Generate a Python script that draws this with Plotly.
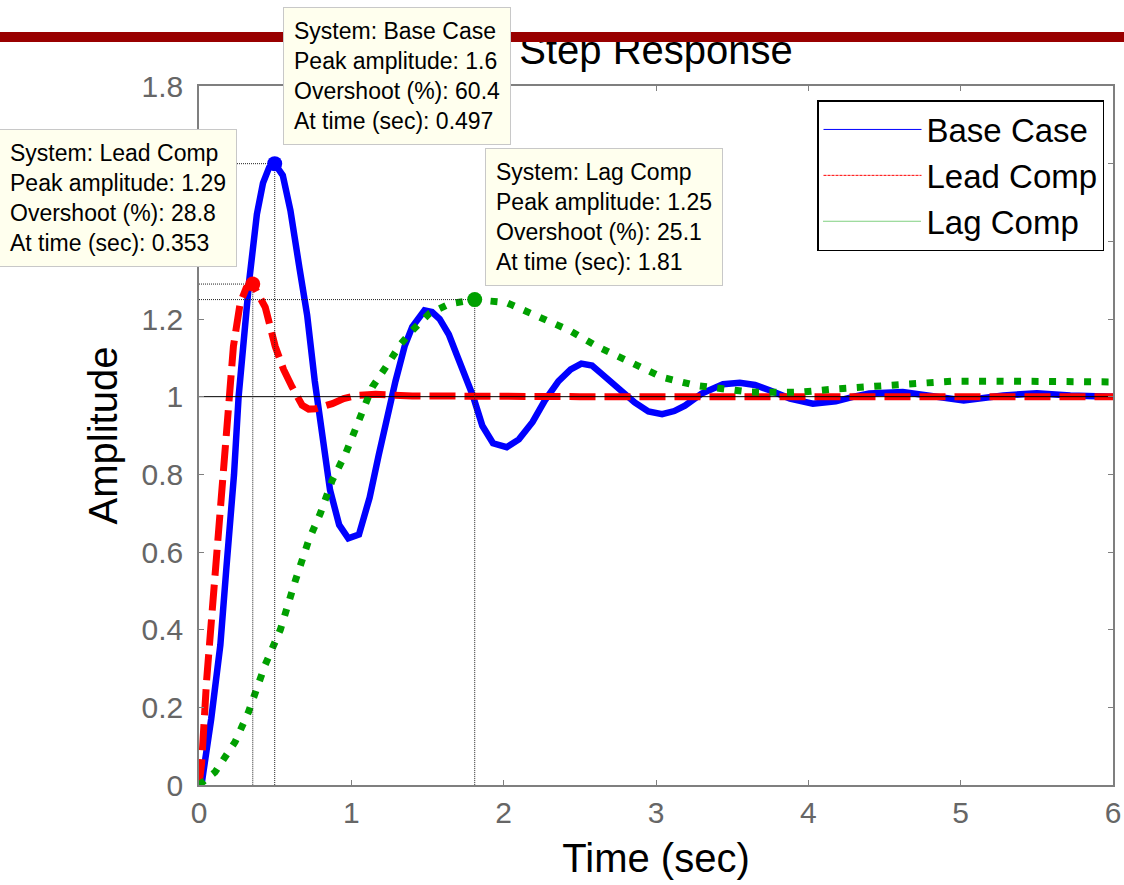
import plotly.graph_objects as go

# ---------------- data ----------------
t_base = [0, 0.02, 0.08, 0.14, 0.18, 0.23, 0.26, 0.30, 0.33, 0.38, 0.42, 0.46, 0.497,
          0.55, 0.60, 0.66, 0.71, 0.76, 0.81, 0.86, 0.92, 0.98, 1.05, 1.12, 1.18, 1.24,
          1.29, 1.35, 1.40, 1.48, 1.53, 1.58, 1.64, 1.69, 1.75, 1.80, 1.86, 1.93, 2.02,
          2.10, 2.19, 2.27, 2.36, 2.44, 2.51, 2.58, 2.64, 2.75, 2.86, 2.95, 3.04, 3.12,
          3.19, 3.30, 3.44, 3.55, 3.65, 3.75, 3.88, 4.03, 4.18, 4.30, 4.40, 4.62, 4.84,
          5.02, 5.28, 5.50, 5.72, 6.0]
y_base = [0, 0.01, 0.17, 0.36, 0.56, 0.80, 1.00, 1.20, 1.30, 1.47, 1.55, 1.59, 1.60,
          1.57, 1.48, 1.33, 1.21, 1.04, 0.89, 0.76, 0.67, 0.635, 0.645, 0.74, 0.85, 0.96,
          1.04, 1.13, 1.18, 1.222, 1.218, 1.20, 1.16, 1.11, 1.05, 1.00, 0.925, 0.88, 0.87,
          0.89, 0.935, 0.99, 1.04, 1.07, 1.085, 1.08, 1.06, 1.025, 0.985, 0.962, 0.955, 0.963,
          0.977, 1.008, 1.032, 1.036, 1.03, 1.016, 0.995, 0.982, 0.988, 1.0, 1.008, 1.012, 1.0,
          0.99, 1.003, 1.009, 1.003, 1.0]

t_lead = [0, 0.017, 0.05, 0.083, 0.127, 0.16, 0.193, 0.226, 0.27, 0.31, 0.353, 0.40,
          0.435, 0.50, 0.555, 0.611, 0.677, 0.72, 0.765, 0.875, 0.95, 1.03, 1.16, 1.4,
          1.8, 2.5, 3.5, 4.5, 6.0]
y_lead = [0, 0.055, 0.27, 0.44, 0.655, 0.83, 1.0, 1.13, 1.24, 1.28, 1.29, 1.26,
          1.23, 1.13, 1.07, 1.025, 0.978, 0.968, 0.969, 0.982, 0.995, 1.003, 1.006, 1.002,
          1.0, 1.0, 1.0, 1.0, 1.0]

t_lag = [0, 0.105, 0.237, 0.325, 0.435, 0.534, 0.633, 0.72, 0.797, 0.875, 0.962, 1.05,
         1.138, 1.226, 1.325, 1.402, 1.512, 1.644, 1.81, 2.02, 2.23, 2.43, 2.62, 2.84,
         3.04, 3.26, 3.50, 3.61, 3.83, 3.96, 4.18, 4.40, 4.62, 4.95, 5.28, 5.72, 6.0]
y_lag = [0, 0.033, 0.111, 0.188, 0.31, 0.40, 0.527, 0.63, 0.70, 0.785, 0.853, 0.939,
         1.025, 1.076, 1.136, 1.171, 1.214, 1.239, 1.25, 1.242, 1.208, 1.171, 1.128, 1.089,
         1.05, 1.029, 1.016, 1.012, 1.011, 1.012, 1.02, 1.025, 1.033, 1.04, 1.04, 1.04, 1.038]

systems = ["Base Case", "Lead Comp", "Lag Comp"]
peak_amp = [1.6, 1.29, 1.25]
overshoot = [60.4, 28.8, 25.1]
peak_time = [0.497, 0.353, 1.81]
steady_t = [0, 6]
steady_y = [1, 1]

x_ticks = [0, 1, 2, 3, 4, 5, 6]
y_ticks = [0, 0.2, 0.4, 0.6, 0.8, 1, 1.2, 1.4, 1.6, 1.8]
x_labels = ["0", "1", "2", "3", "4", "5", "6"]
y_labels = ["0", "0.2", "0.4", "0.6", "0.8", "1", "1.2", "1.4", "1.6", "1.8"]

# ---------------- styling ----------------
FONT = "Liberation Sans, Arial, sans-serif"
colors = ["#0000ff", "#ff0000", "#00a000"]
dashes = ["solid", "26px,9px", "7px,10.5px"]
widths = [6.5, 7, 7]
series_t = [t_base, t_lead, t_lag]
series_y = [y_base, y_lead, y_lag]

W, H = 1124, 885
ML, MR, MT, MB = 199, 11, 86, 100
PW, PH = W - ML - MR, H - MT - MB


def px(x):
    return (x - ML) / PW


def py(y):
    return (H - MB - y) / PH


fig = go.Figure()

# response curves
for name, tt, yy, c, d, w in zip(systems, series_t, series_y, colors, dashes, widths):
    fig.add_trace(go.Scatter(x=tt, y=yy, mode="lines", name=name, showlegend=False,
                             line=dict(color=c, width=w, dash=d), hoverinfo="skip"))

# steady-state line
fig.add_trace(go.Scatter(x=steady_t, y=steady_y, mode="lines", showlegend=False,
                         line=dict(color="black", width=1), hoverinfo="skip"))

# peak guide lines
for pt, pa in zip(peak_time, peak_amp):
    fig.add_trace(go.Scatter(x=[0, pt, pt], y=[pa, pa, 0], mode="lines", showlegend=False,
                             line=dict(color="#222222", width=1, dash="1px,1px"),
                             hoverinfo="skip"))

# peak markers
for pt, pa, c in zip(peak_time, peak_amp, colors):
    fig.add_trace(go.Scatter(x=[pt], y=[pa], mode="markers", showlegend=False,
                             marker=dict(color=c, size=15, line=dict(width=0)),
                             cliponaxis=False, hoverinfo="skip"))

# legend entries (thin lines as in the reference legend)
leg_dash = ["solid", "3px,1px", "1px,1px"]
for name, c, d in zip(systems, colors, leg_dash):
    fig.add_trace(go.Scatter(x=[None], y=[None], mode="lines", name=name,
                             line=dict(color=c, width=1, dash=d)))

# ---------------- annotations ----------------
annotations = []
# slide header bar (drawn over the title)
annotations.append(dict(xref="paper", yref="paper", x=px(0), y=py(32), xanchor="left",
                        yanchor="top", text=" ", showarrow=False, width=W, height=10,
                        bgcolor="#990000", borderpad=0, borderwidth=0,
                        font=dict(size=6)))

tip_pos = [  # (x, y, xanchor) in pixels of the box corner
    (283, 7, "left"),
    (237, 129, "right"),
    (485, 148, "left"),
]
for name, pa, ov, pt, (bx, by, xa) in zip(systems, peak_amp, overshoot, peak_time, tip_pos):
    txt = (f"System: {name}<br>Peak amplitude: {pa:g}<br>"
           f"Overshoot (%): {ov:g}<br>At time (sec): {pt:g}")
    annotations.append(dict(xref="paper", yref="paper", x=px(bx), y=py(by), xanchor=xa,
                            yanchor="top", text=txt, showarrow=False, align="left",
                            bgcolor="#ffffee", bordercolor="#c8c8c8", borderwidth=1,
                            borderpad=10, font=dict(family=FONT, size=23, color="black")))

axis_common = dict(showline=True, linecolor="#7f7f7f", linewidth=1.5, mirror="ticks",
                   ticks="inside", ticklen=5, tickwidth=1.2, tickcolor="#7f7f7f",
                   showgrid=False, zeroline=False,
                   tickfont=dict(family=FONT, size=30, color="#666666"))

fig.update_layout(
    width=W, height=H,
    margin=dict(l=ML, r=MR, t=MT, b=MB, autoexpand=False),
    paper_bgcolor="white", plot_bgcolor="white",
    font=dict(family=FONT, color="black"),
    title=dict(text="Step Response", x=0.5, xref="paper", xanchor="center",
               y=1 - 50 / H, yanchor="middle", yref="container",
               font=dict(family=FONT, size=40, color="black")),
    xaxis=dict(range=[0, 6], tickvals=x_ticks, ticktext=x_labels,
               title=dict(text="Time (sec)", font=dict(family=FONT, size=40, color="black"),
                          standoff=16),
               ticklabelstandoff=0, **axis_common),
    yaxis=dict(range=[0, 1.8], tickvals=y_ticks, ticktext=y_labels,
               title=dict(text="Amplitude", font=dict(family=FONT, size=40, color="black"),
                          standoff=12),
               ticklabelstandoff=8, **axis_common),
    legend=dict(x=px(1104), y=py(100), xanchor="right", yanchor="top",
                bgcolor="white", bordercolor="black", borderwidth=1.5,
                font=dict(family=FONT, size=33, color="black"), itemwidth=98,
                tracegroupgap=0),
    annotations=annotations,
)

fig.write_html("out.html")
